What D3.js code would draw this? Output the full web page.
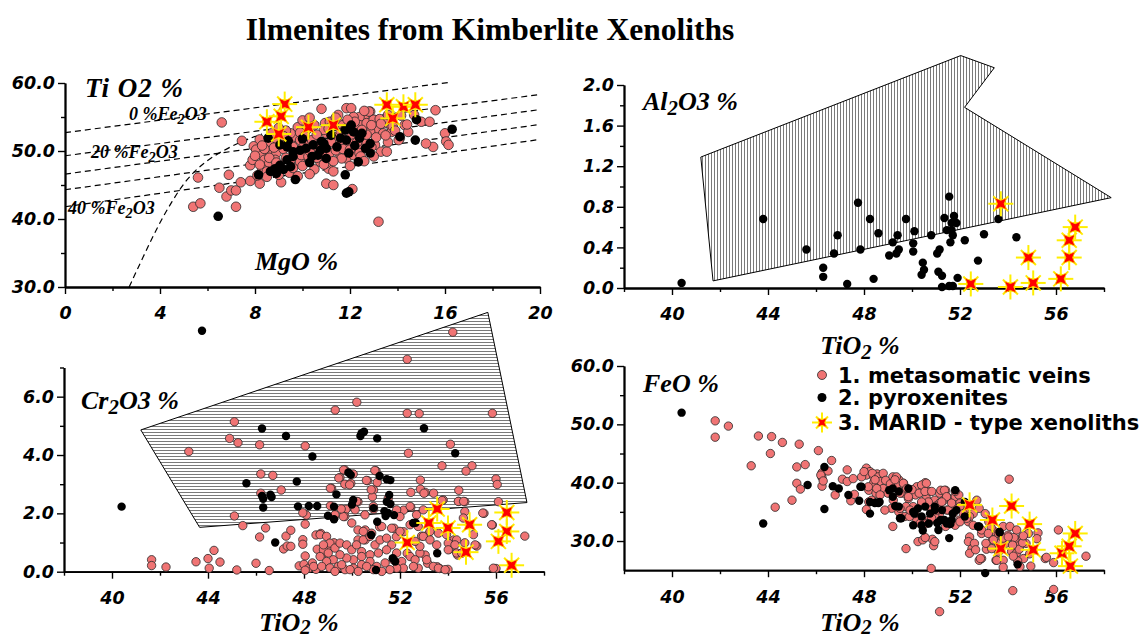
<!DOCTYPE html>
<html><head><meta charset="utf-8">
<script src="https://cdn.jsdelivr.net/npm/d3@7"></script>
<style>body{margin:0;background:#fff}svg{display:block}</style>
</head><body>
<svg id="c" width="1145" height="641"></svg>
<script>
// ---------------- DATA ----------------
// Panel 1: TiO2 vs MgO  [MgO, TiO2]
const mgoVeins = [[6.6,54.2],[7.45,51.5],[5.6,46.1],[5.4,41.8],[5.7,42.3],[6.5,44.6],[6.9,46.5],[6.8,43.3],[7.0,44.2],[7.2,44.2],[7.2,41.8],[7.4,45.4],[7.8,45.6],[7.8,47.9],[7.95,50.7],[8.05,50.2],[8.2,45.2],[8.1,46.4],[7.9,48.7],[8.3,49.4],[8.55,50.1],[8.7,49.4],[8.9,49.7],[8.4,48.7],[8.6,48.2],[8.85,48.7],[9.05,47.9],[8.3,47.4],[8.5,47.0],[8.8,47.2],[9.1,45.4],[9.45,46.8],[9.55,51.1],[9.7,52.1],[9.5,52.6],[9.9,51.6],[10.1,50.9],[10.4,51.6],[10.6,50.6],[9.5,48.7],[9.9,48.4],[10.3,48.7],[10.75,48.4],[11.0,48.9],[9.95,49.4],[10.25,49.2],[10.8,56.2],[11.0,54.1],[11.1,47.4],[11.0,45.2],[11.3,45.0],[11.85,56.3],[12.05,56.3],[12.85,55.8],[12.6,55.0],[12.4,55.0],[12.15,55.0],[10.95,54.1],[11.15,54.3],[11.5,54.3],[11.7,53.8],[12.4,53.8],[12.7,54.1],[13.0,54.6],[13.25,54.7],[13.55,54.1],[13.75,53.6],[13.2,53.1],[13.4,52.6],[13.75,52.8],[14.3,53.8],[14.45,52.8],[15.0,54.3],[15.35,54.3],[15.6,56.0],[16.0,52.6],[16.05,51.4],[16.15,50.9],[15.5,50.6],[15.2,51.1],[14.1,51.9],[14.05,51.6],[13.3,49.9],[13.55,49.9],[12.85,52.8],[12.55,52.1],[12.3,52.6],[12.0,51.9],[11.6,52.6],[11.3,52.1],[11.0,52.6],[10.9,53.1],[11.6,51.1],[11.85,50.6],[12.15,51.1],[12.4,50.4],[12.7,51.1],[13.05,50.9],[11.15,49.7],[11.6,49.4],[11.85,48.9],[12.15,49.4],[12.4,49.7],[11.0,48.2],[11.65,48.9],[12.1,44.4],[13.2,39.6],[12.45,49.2],[12.9,50.6],[14.4,53.9],[14.7,55.3],[14.15,55.2],[12.8,55.8],[13.8,53.6],[13.3,54.0],[12.6,55.9],[8.6,51.2],[8.9,51.8],[9.2,50.3],[9.3,49.0],[9.6,47.5],[9.8,46.3],[10.0,47.8],[10.5,47.3],[10.8,49.6],[10.6,52.4],[10.2,53.2],[9.8,53.5],[9.3,53.0],[8.7,52.6],[8.2,51.7],[8.0,49.3],[10.9,50.8],[11.2,51.3],[11.4,50.1],[11.8,53.2],[12.2,53.5],[12.0,47.8],[12.6,48.5],[13.0,49.2],[13.6,51.3],[12.9,53.8],[11.5,55.3],[10.0,54.5],[9.0,53.4],[8.4,50.3],[8.5,46.2],[9.0,46.5],[10.3,46.6],[11.3,47.0],[8.3,50.8],[8.8,50.5],[9.2,51.6],[9.6,50.6],[10.0,50.5],[10.3,50.0],[10.6,49.0],[10.9,48.0],[11.3,48.5],[11.7,50.3],[12.0,50.2],[12.3,51.3],[12.7,52.4],[13.1,52.0],[13.5,52.3],[13.9,53.0],[12.2,54.3],[11.4,54.9],[10.5,53.8],[9.9,52.7],[9.2,52.2],[8.6,49.0],[8.2,48.0],[8.9,48.3],[10.1,52.2],[11.1,53.3],[12.5,53.1],[13.6,55.3],[11.9,54.6],[10.3,54.9]];
const mgoPyrox = [[6.45,40.4],[8.55,51.9],[8.15,46.5],[8.65,47.0],[8.85,47.4],[9.05,47.9],[9.35,50.6],[9.6,49.9],[9.9,50.1],[10.15,50.4],[9.35,48.7],[9.6,49.2],[9.5,47.7],[9.7,45.8],[10.45,50.9],[10.75,50.1],[10.9,51.1],[10.4,49.2],[10.65,49.4],[9.05,50.9],[11.3,53.6],[11.8,53.1],[12.05,53.8],[12.15,52.8],[12.5,52.6],[11.6,51.9],[11.85,51.6],[12.4,51.9],[12.85,51.1],[11.0,50.4],[11.45,50.6],[11.95,49.7],[12.35,48.4],[12.85,49.7],[11.8,46.5],[11.95,44.0],[11.85,43.8],[14.1,52.1],[14.8,54.6],[14.75,51.6],[16.3,53.2],[11.0,48.9],[10.8,51.4],[12.65,50.4],[9.4,51.5],[10.0,51.8],[11.2,52.3],[12.2,50.8],[10.3,48.3],[8.9,46.7],[9.2,47.3]];
const mgoMarid = [[9.25,56.9],[8.5,54.3],[9.1,55.1],[9.0,52.5],[10.25,53.5],[11.3,53.8],[13.55,56.8],[14.25,56.5],[14.75,56.8],[13.8,54.8]];
// Fe2O3 isolines and limit curve  [MgO, TiO2]
const ferricLines = [
  [[0,52.7],[16.2,60.1]],
  [[0,49.3],[20,58.3]],
  [[0,46.6],[20,56.1]],
  [[0,44.3],[20,53.9]],
  [[0,41.8],[20,51.7]]
];
const limitCurve = [[2.7,30],[3.3,34.5],[3.9,38.9],[4.5,42.6],[5.1,45.8],[5.8,48.2],[6.6,50.0],[7.5,51.5],[8.3,52.5]];

// Panel 2: Al2O3 vs TiO2  [TiO2, Al2O3]
const alPyrox = [[40.4,0.05],[43.8,0.68],[45.6,0.38],[46.3,0.2],[46.3,0.11],[46.75,0.34],[46.9,0.52],[47.3,0.04],[47.75,0.84],[47.85,0.38],[48.25,0.68],[48.4,0.09],[48.6,0.54],[49.05,0.32],[49.2,0.45],[49.35,0.34],[49.45,0.38],[49.4,0.52],[49.75,0.68],[50.05,0.36],[50.05,0.44],[50.1,0.56],[50.45,0.25],[50.5,0.18],[50.4,0.13],[50.8,0.52],[51.05,0.34],[51.15,0.38],[51.1,0.16],[51.25,0.12],[51.25,0.01],[51.35,0.69],[51.45,0.57],[51.55,0.9],[51.6,0.45],[51.65,0.64],[51.75,0.71],[51.85,0.64],[51.7,0.52],[51.65,0.57],[51.55,0.02],[51.7,0.02],[51.9,0.1],[52.2,0.47],[52.75,0.27],[53.0,0.53],[53.6,0.68],[54.35,0.5]];
const alMarid = [[52.45,0.04],[53.7,0.83],[54.1,0.01],[54.85,0.3],[55.05,0.05],[56.2,0.09],[56.55,0.3],[56.55,0.47],[56.8,0.6]];
const alField = [[41.2,1.29],[52.03,2.29],[53.43,2.17],[52.19,1.78],[58.3,0.89],[41.71,0.07]];

// Panel 3: Cr2O3 vs TiO2  [TiO2, Cr2O3]
const crVeins = [[54.2,8.21],[52.3,7.28],[50.2,5.81],[49.3,5.54],[45.1,5.14],[45.25,4.42],[44.9,4.57],[43.2,4.12],[46.15,4.35],[48.05,4.31],[52.3,5.43],[52.8,5.42],[52.35,4.06],[54.1,4.37],[55.85,5.43],[56.0,3.18],[56.05,2.99],[56.1,2.4],[55.0,3.63],[54.75,3.45],[53.75,3.63],[54.45,2.79],[54.45,2.41],[54.7,2.4],[54.7,2.06],[55.5,2.0],[55.85,1.6],[57.2,1.22],[56.0,0.11],[53.8,2.46],[53.4,2.69],[53.05,2.72],[52.85,3.14],[52.45,2.72],[52.45,2.21],[52.15,2.11],[51.0,3.46],[51.05,3.06],[50.9,2.8],[50.85,2.57],[50.9,2.14],[50.65,3.12],[49.7,3.49],[49.5,3.23],[49.7,3.0],[49.95,3.03],[50.05,3.35],[49.15,2.86],[50.25,2.4],[49.75,2.14],[50.1,2.17],[49.7,1.89],[49.25,1.83],[48.1,1.94],[47.95,2.02],[48.05,1.63],[47.05,2.8],[46.7,3.3],[46.2,3.35],[46.2,2.69],[45.1,1.91],[45.45,1.58],[46.4,1.5],[46.15,1.19],[47.25,1.22],[47.45,1.42],[47.15,0.78],[47.3,0.88],[47.45,0.87],[47.95,1.1],[47.95,0.94],[48.05,0.54],[48.5,1.26],[48.7,1.31],[48.55,0.77],[48.85,0.65],[49.05,0.8],[49.25,0.99],[50.25,1.43],[50.55,1.09],[50.25,1.09],[50.4,0.69],[50.55,1.43],[51.15,1.54],[51.75,1.49],[51.85,1.2],[52.15,1.37],[52.3,0.63],[52.9,1.22],[53.15,1.26],[53.05,0.57],[53.15,0.29],[53.55,0.17],[53.65,0.11],[54.0,0.08],[54.05,0.97],[54.05,0.77],[54.25,1.09],[54.4,0.57],[54.7,0.99],[55.2,0.88],[54.55,0.63],[41.65,0.41],[41.65,0.21],[42.25,0.16],[43.5,0.34],[44.0,0.45],[44.05,0.12],[44.25,0.73],[44.5,0.33],[45.2,0.06],[46.0,0.29],[46.55,0.04],[47.8,0.2],[48.0,0.25],[48.2,0.12],[48.35,0.3],[48.5,0.08],[48.05,0.05],[48.4,0.18],[48.67,1.27],[48.94,1.21],[49.08,0.98],[48.81,0.75],[49.01,0.64],[49.29,0.81],[49.5,0.98],[49.78,0.92],[49.99,0.75],[50.19,0.92],[50.47,1.09],[50.75,1.21],[50.96,0.92],[51.17,1.09],[51.44,1.15],[51.65,0.92],[51.86,0.64],[51.44,0.75],[51.1,0.64],[50.75,0.58],[50.4,0.52],[50.06,0.41],[49.78,0.47],[49.5,0.58],[49.22,0.41],[48.94,0.35],[48.74,0.18],[49.08,0.13],[49.43,0.18],[49.71,0.07],[50.06,0.12],[50.4,0.24],[50.75,0.35],[51.03,0.18],[51.38,0.3],[51.72,0.41],[52.07,0.35],[52.42,0.52],[52.63,0.41],[52.83,0.64],[53.11,0.41],[52.83,0.87],[52.63,1.04],[52.97,1.21],[53.25,1.09],[53.53,0.92],[53.39,0.18],[53.6,0.12],[53.88,0.07],[52.76,0.12],[52.56,0.18],[52.14,0.12],[51.86,0.12],[51.58,0.07],[51.24,0.01],[50.89,0.07],[50.61,0.18],[50.26,0.01],[49.92,0.07],[49.57,0.24],[49.29,0.01],[48.67,0.52],[48.81,0.92],[49.99,1.67],[50.47,1.38],[50.82,1.32],[51.24,1.55],[51.65,1.49],[52.0,1.38],[52.42,1.61],[52.69,1.95],[52.76,1.55],[53.25,1.38],[53.6,1.32],[54.36,1.09],[54.64,1.84],[54.43,2.41],[55.82,1.61],[55.06,1.27],[55.13,0.92],[53.94,1.27],[54.01,0.98],[54.01,0.75],[54.29,0.92],[54.36,0.64],[54.57,0.64],[55.89,0.12],[52.42,2.24],[52.97,2.12],[51.86,2.12],[50.54,1.95],[50.13,2.12],[49.64,1.89],[49.29,1.95],[51.51,2.52],[50.89,2.24],[52.0,1.89],[49.65,3.49],[49.45,3.21],[50.95,3.47],[50.6,3.13],[49.1,2.86],[49.9,2.98],[50.8,2.81],[52.85,2.83],[53.0,2.69],[53.75,2.44],[54.65,2.41],[55.45,2.01],[49.1,2.26],[49.55,2.15],[50.2,2.41]];
const crPyrox = [[43.75,8.26],[40.4,2.23],[46.25,4.91],[47.25,4.65],[48.35,3.95],[45.6,3.03],[47.7,3.09],[46.25,2.6],[46.3,2.5],[46.3,2.2],[48.2,2.25],[48.55,2.25],[47.75,2.24],[46.8,1.0],[49.0,1.92],[49.25,1.8],[49.35,2.65],[49.25,2.23],[50.05,2.46],[50.0,2.3],[50.35,4.65],[50.5,4.8],[50.4,4.75],[51.05,4.57],[51.15,3.28],[51.45,3.17],[51.6,3.14],[51.55,2.63],[51.45,2.4],[51.6,2.32],[51.4,1.91],[51.05,1.71],[53.0,4.92],[54.3,4.06],[51.75,1.94],[52.65,1.68],[53.55,0.63],[51.0,0.06],[51.7,0.46],[50.8,1.26],[49.85,3.4],[49.95,3.32],[51.35,2.07],[51.5,2.01],[50.9,2.18],[52.55,1.67],[51.8,0.35],[46.6,2.64],[46.65,2.56]];
const crMarid = [[53.55,2.15],[53.2,1.67],[54.0,1.5],[54.9,1.61],[52.3,1.0],[54.75,0.67],[56.45,2.03],[56.45,1.38],[56.1,1.04],[56.65,0.22]];
const crField = [[41.2,4.86],[55.66,8.89],[57.29,2.37],[43.65,1.52]];

// Panel 4: FeO vs TiO2  [TiO2, FeO]
const feVeins = [[41.8,50.6],[41.8,47.8],[42.35,49.7],[43.6,48.0],[44.15,47.9],[44.6,46.9],[45.3,46.6],[46.1,45.5],[44.1,45.0],[43.3,42.9],[45.2,42.7],[45.55,43.1],[46.65,43.8],[45.2,39.9],[45.35,38.9],[45.0,37.0],[44.3,35.8],[46.25,41.7],[46.25,40.9],[46.25,39.4],[46.5,42.0],[46.8,37.9],[47.3,42.2],[47.1,40.6],[47.3,40.2],[47.55,40.7],[47.45,36.9],[47.6,38.0],[48.1,42.5],[48.25,41.9],[48.1,41.3],[47.9,41.0],[48.4,41.0],[48.55,41.5],[48.4,40.0],[48.2,38.7],[48.2,36.7],[48.1,35.4],[48.35,41.6],[48.6,41.0],[48.8,41.6],[48.65,40.2],[48.45,39.3],[48.8,39.0],[49.0,38.2],[48.5,38.2],[49.2,41.0],[49.45,40.5],[49.35,39.6],[49.7,39.3],[49.6,38.2],[49.9,38.5],[49.85,37.3],[50.15,37.9],[50.2,39.3],[50.45,39.3],[50.55,40.0],[50.7,38.5],[50.6,37.3],[50.4,36.5],[50.05,35.9],[49.75,35.9],[49.45,35.0],[49.7,34.2],[50.7,35.9],[50.95,37.0],[51.15,38.2],[51.4,38.7],[51.45,37.6],[51.15,36.5],[51.65,37.0],[51.8,37.6],[51.95,37.9],[52.0,36.5],[51.7,35.9],[51.45,35.3],[51.15,34.7],[50.95,34.5],[50.7,33.6],[50.45,33.3],[50.2,33.6],[49.9,34.2],[51.4,32.5],[51.8,32.7],[52.0,33.6],[52.35,33.3],[52.55,32.7],[52.55,34.7],[52.8,35.6],[52.7,37.0],[53.05,34.7],[53.2,33.3],[52.9,31.3],[52.4,30.7],[52.35,29.9],[52.5,28.7],[52.4,27.9],[52.9,27.0],[52.8,26.7],[53.1,28.6],[53.35,30.2],[53.45,31.6],[53.75,30.7],[53.6,29.6],[53.9,29.6],[53.8,26.7],[53.5,26.7],[53.8,25.5],[54.15,28.2],[54.3,30.2],[54.6,30.7],[54.75,29.6],[54.35,27.9],[54.65,27.0],[54.95,25.7],[54.5,25.6],[54.85,31.3],[55.25,31.4],[55.55,27.0],[55.9,26.3],[56.1,31.9],[57.25,27.4],[55.6,27.2],[54.05,40.6],[54.2,21.5],[55.9,21.7],[51.15,17.9],[50.8,25.3],[49.75,28.7],[50.25,29.9],[50.45,30.2],[50.85,30.3],[50.9,29.2],[49.2,32.5],[50.55,30.6],[50.95,29.9],[52.6,29.6],[52.65,28.5],[52.85,27.0],[49.35,41.0],[49.65,39.9],[50.4,39.6],[50.6,39.9],[51.2,38.7],[51.35,38.7],[51.8,38.5],[46.2,41.3],[46.3,40.3],[48.0,41.9],[48.9,40.4],[49.1,39.8],[50.0,38.8],[50.3,38.2],[51.0,36.0],[51.3,36.9],[52.2,35.0],[52.4,34.2],[53.3,32.3],[53.8,32.5],[54.0,31.0],[53.6,28.1],[54.5,29.3],[55.2,30.4],[54.9,27.8],[54.4,26.6],[48.46,40.5],[48.18,39.3],[48.53,39.0],[48.67,37.9],[48.32,37.0],[49.29,40.5],[49.64,39.9],[49.78,39.0],[49.5,38.2],[49.85,37.6],[49.22,37.0],[50.54,38.5],[50.82,38.5],[50.68,36.7],[50.4,36.7],[51.44,37.6],[51.24,36.7],[51.51,35.3],[51.65,36.5],[51.72,34.7],[52.0,35.9],[52.14,34.7],[52.0,33.3],[52.28,33.9],[51.03,35.3],[50.82,33.9],[50.61,33.0],[50.33,33.0],[50.12,34.7],[49.92,35.3],[49.5,35.6],[49.15,35.6],[48.87,35.3],[52.9,31.9],[53.18,31.3],[53.39,30.2],[53.08,29.6],[53.32,28.7],[53.6,31.3],[53.8,30.5],[53.53,26.7],[54.22,27.4],[54.47,28.6],[54.61,29.7],[54.25,30.6],[54.01,30.7],[54.08,32.5],[54.36,31.9],[54.64,30.9],[54.19,29.3]];
const fePyrox = [[40.4,52.0],[43.8,33.0],[46.35,42.7],[46.35,35.5],[45.65,39.6],[46.7,39.4],[46.95,39.0],[47.35,37.9],[47.8,36.9],[47.9,39.3],[48.25,34.7],[48.45,36.5],[48.6,36.5],[49.05,38.7],[49.2,37.6],[49.3,36.0],[49.45,38.5],[49.5,33.9],[49.85,39.0],[50.05,32.7],[50.1,34.7],[50.4,32.7],[50.45,31.8],[50.4,34.2],[50.95,35.9],[51.05,33.1],[51.1,31.9],[51.35,33.6],[51.6,32.9],[51.7,34.7],[51.8,38.7],[51.55,30.5],[51.85,35.3],[52.2,34.2],[52.8,32.5],[53.05,24.5],[53.65,31.4],[54.4,26.0],[48.5,36.6],[49.45,35.9],[49.2,39.0],[47.85,39.3],[48.25,36.7],[48.65,36.7],[50.25,35.6],[50.55,35.9],[50.75,34.7],[50.95,35.3],[51.25,35.3],[52.2,36.7],[50.7,33.0],[50.05,35.0],[51.2,33.6],[51.45,33.0],[51.65,33.6],[52.75,32.5],[53.65,31.6],[49.55,33.9]];
const feMarid = [[52.4,36.2],[53.35,33.6],[54.15,36.0],[53.7,28.7],[54.9,32.9],[55.05,28.5],[56.25,27.9],[56.55,29.1],[56.8,31.3],[56.6,25.7]];

// Tick values
const mgoTicks = [0,4,8,12,16,20], mgoMinor = [2,6,10,14,18];
const tio2Ticks = [40,44,48,52,56], tio2Minor = [38,42,46,50,54,58];
const p1yTicks = [30,40,50,60], p1yMinor = [35,45,55];
const p2yTicks = [0,0.4,0.8,1.2,1.6,2.0], p2yMinor = [0.2,0.6,1.0,1.4,1.8];
const p3yTicks = [0,2,4,6], p3yMinor = [1,3,5,7];
const p4yTicks = [30,40,50,60], p4yMinor = [35,45,55];
const legendItems = ["1. metasomatic veins","2. pyroxenites","3. MARID - type xenoliths"];

// ---------------- DRAW ----------------
const svg = d3.select("#c");
svg.append("rect").attr("width",1145).attr("height",641).attr("fill","#fff");
const defs = svg.append("defs");
function hatch(id, vertical){
  const p = defs.append("pattern").attr("id",id).attr("patternUnits","userSpaceOnUse").attr("width",3).attr("height",3);
  p.append("rect").attr("width",3).attr("height",3).attr("fill","#fff");
  if (vertical) p.append("rect").attr("x",0).attr("y",0).attr("width",1).attr("height",3).attr("fill","#7a7a7a");
  else p.append("rect").attr("x",0).attr("y",0).attr("width",3).attr("height",1).attr("fill","#7a7a7a");
}
hatch("hv", true); hatch("hh", false);

const PINK = "#f07474";
const TICKFONT = "DejaVu Sans";
const SERIF = "Liberation Serif";

const x1 = d3.scaleLinear([0,20],[65,540]),  y1 = d3.scaleLinear([30,60],[287,83]);
const x2 = d3.scaleLinear([38,58],[624,1104]), y2 = d3.scaleLinear([0,2],[288,85]);
const x3 = d3.scaleLinear([38,58],[64,544]),  y3 = d3.scaleLinear([0,7],[571.7,367.5]);
const x4 = d3.scaleLinear([38,58],[624,1104]), y4 = d3.scaleLinear([25,60],[570.2,366]);

function axes(xs, ys, xMaj, xMin, yMaj, yMin, xf, yf){
  const g = svg.append("g");
  const yb = ys.range()[0], xl = xs.range()[0];
  const style = sel => {
    sel.selectAll("path.domain").attr("stroke","#000").attr("stroke-width",1.8);
    sel.selectAll(".tick line").attr("stroke","#000").attr("stroke-width",1.4);
    sel.selectAll("text").attr("font-family",TICKFONT).attr("font-weight","bold").attr("font-style","italic").attr("font-size",17.5).attr("fill","#000");
  };
  g.append("g").attr("transform",`translate(0,${yb})`).call(d3.axisBottom(xs).tickValues(xMin).tickSize(4).tickFormat("").tickSizeOuter(0)).call(style);
  g.append("g").attr("transform",`translate(0,${yb})`).call(d3.axisBottom(xs).tickValues(xMaj).tickSize(7).tickPadding(13).tickFormat(xf).tickSizeOuter(0)).call(style);
  g.append("g").attr("transform",`translate(${xl},0)`).call(d3.axisLeft(ys).tickValues(yMin).tickSize(4).tickFormat("").tickSizeOuter(0)).call(style);
  g.append("g").attr("transform",`translate(${xl},0)`).call(d3.axisLeft(ys).tickValues(yMaj).tickSize(7).tickPadding(3).tickFormat(yf).tickSizeOuter(0)).call(style);
}

function circles(data, xs, ys, fill, r){
  svg.append("g").selectAll("circle").data(data).join("circle")
    .attr("cx",d=>xs(d[0])).attr("cy",d=>ys(d[1])).attr("r",r)
    .attr("fill",fill).attr("stroke", fill==="#000"?"none":"#2a2a2a").attr("stroke-width",0.8);
}
function starPath(ro, ri){
  const p=[];
  for(let k=0;k<8;k++){
    const a = k*Math.PI/4 + Math.PI/4;
    const r = (k%2===0)? ro : ri;
    p.push([r*Math.cos(a), r*Math.sin(a)]);
  }
  return "M"+p.map(q=>q.join(",")).join("L")+"Z";
}
function drawStar(g, cx, cy, s){
  const gg = g.append("g").attr("transform",`translate(${cx},${cy})`);
  const R = 12.5*s;
  for(let k=0;k<8;k++){
    const a = k*Math.PI/4;
    const rr = (k%2===0)? R : R*0.85;
    gg.append("line").attr("x1",0).attr("y1",0).attr("x2",rr*Math.cos(a)).attr("y2",rr*Math.sin(a))
      .attr("stroke","#ffee00").attr("stroke-width",2);
  }
  gg.append("circle").attr("r",5*s).attr("fill","#ffee00");
  gg.append("path").attr("d",starPath(8.5*s,3.4*s)).attr("fill","#ff0000").attr("stroke","#ffdd00").attr("stroke-width",0.8);
}
function stars(data, xs, ys, s){
  const g = svg.append("g");
  data.forEach(d=>drawStar(g, xs(d[0]), ys(d[1]), s));
}
function polygon(data, xs, ys, fill){
  svg.append("path").attr("d", d3.line().x(d=>xs(d[0])).y(d=>ys(d[1]))(data)+"Z")
    .attr("fill",fill).attr("stroke","#000").attr("stroke-width",1);
}
function label(x, y, parts, size, opts={}){
  const t = svg.append("text").attr("x",x).attr("y",y)
    .attr("font-family", opts.family||SERIF).attr("font-weight", opts.weight||"bold")
    .attr("font-style", opts.style||"italic").attr("font-size",size).attr("fill","#000")
    .attr("text-anchor", opts.anchor||"start");
  let lowered = false;
  const shift = size*(opts.shift||0.2);
  parts.forEach(p=>{
    if (typeof p === "string") {
      const ts = t.append("tspan").text(p);
      if (lowered) { ts.attr("dy",-shift); lowered = false; }
    } else {
      t.append("tspan").attr("font-size",size*0.8).attr("dy",shift).text(p.sub);
      lowered = true;
    }
  });
  return t;
}

// Title
svg.append("text").attr("x",490).attr("y",40).attr("text-anchor","middle")
  .attr("font-family",SERIF).attr("font-weight","bold").attr("font-size",31.5).text("Ilmenites from Kimberlite Xenoliths");

// ---- Panel 1 ----
const dashLine = d3.line().x(d=>x1(d[0])).y(d=>y1(d[1]));
svg.append("g").selectAll("path").data(ferricLines).join("path").attr("d",dashLine)
  .attr("fill","none").attr("stroke","#000").attr("stroke-width",1.2).attr("stroke-dasharray","6,4");
svg.append("path").attr("d", d3.line().x(d=>x1(d[0])).y(d=>y1(d[1])).curve(d3.curveBasis)(limitCurve))
  .attr("fill","none").attr("stroke","#000").attr("stroke-width",1.2).attr("stroke-dasharray","6,4");
axes(x1, y1, mgoTicks, mgoMinor, p1yTicks, p1yMinor, d3.format("d"), d3.format(".1f"));
label(129,120,["0 %Fe",{sub:"2"},"O3"],18);
label(91,158,["20 %Fe",{sub:"2"},"O3"],18);
label(68,214,["40 %Fe",{sub:"2"},"O3"],18);
circles(mgoVeins, x1, y1, PINK, 4.8);
circles(mgoPyrox, x1, y1, "#000", 4.8);
stars(mgoMarid, x1, y1, 1);
label(85,97,["Ti O2 %"],27).attr("letter-spacing",1);
label(255,270,["MgO %"],26);

// ---- Panel 2 ----
polygon(alField, x2, y2, "url(#hv)");
axes(x2, y2, tio2Ticks, tio2Minor, p2yTicks, p2yMinor, d3.format("d"), d3.format(".1f"));
circles(alPyrox, x2, y2, "#000", 4.2);
stars(alMarid, x2, y2, 1);
label(643,110,["Al",{sub:"2"},"O3 %"],26);
label(860,354,["TiO",{sub:"2"}," %"],26,{anchor:"middle"});

// ---- Panel 3 ----
polygon(crField, x3, y3, "url(#hh)");
axes(x3, y3, tio2Ticks, tio2Minor, p3yTicks, p3yMinor, d3.format("d"), d3.format(".1f"));
circles(crVeins, x3, y3, PINK, 4.2);
circles(crPyrox, x3, y3, "#000", 4.2);
stars(crMarid, x3, y3, 1);
label(81,409,["Cr",{sub:"2"},"O3 %"],26);
label(299,631,["TiO",{sub:"2"}," %"],26,{anchor:"middle", shift:0.12});

// ---- Panel 4 ----
axes(x4, y4, tio2Ticks, tio2Minor, p4yTicks, p4yMinor, d3.format("d"), d3.format(".1f"));
circles(feVeins, x4, y4, PINK, 4.2);
circles(fePyrox, x4, y4, "#000", 4.2);
stars(feMarid, x4, y4, 1);
label(643,392,["FeO %"],26);
label(860,631,["TiO",{sub:"2"}," %"],26,{anchor:"middle", shift:0.12});

// Legend
const lg = svg.append("g");
const legY = [375, 397.5, 422.5];
lg.append("circle").attr("cx",822).attr("cy",legY[0]).attr("r",4.5).attr("fill",PINK).attr("stroke","#2a2a2a").attr("stroke-width",0.8);
lg.append("circle").attr("cx",822).attr("cy",legY[1]).attr("r",4.5).attr("fill","#000");
drawStar(lg, 822, legY[2], 0.8);
lg.selectAll("text").data(legendItems).join("text")
  .attr("x",838).attr("y",(d,i)=>legY[i]+7.5).attr("font-family","DejaVu Sans").attr("font-weight","bold")
  .attr("font-size",21).attr("fill","#000").text(d=>d);
</script>
</body></html>
